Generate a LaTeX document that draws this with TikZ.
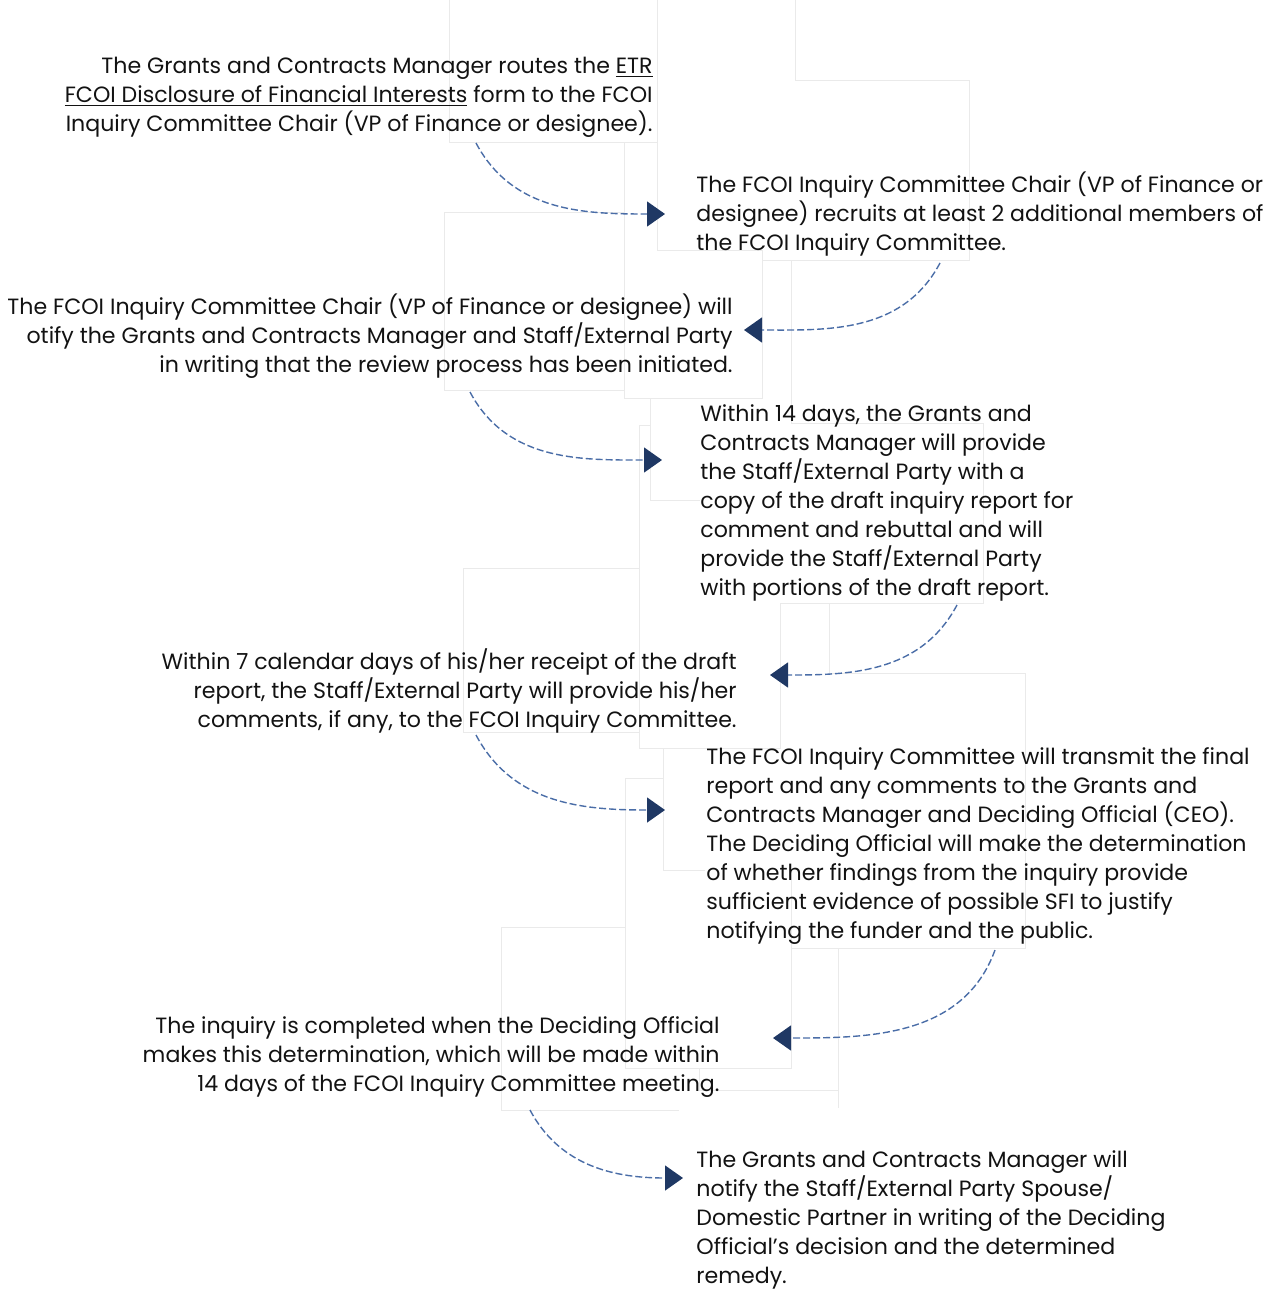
\documentclass[tikz,border=0pt]{standalone}
\usepackage{fontspec}
\setmainfont{Poppins}
\usepackage{xcolor}
\usetikzlibrary{arrows.meta, positioning, calc}
\definecolor{flowblue}{RGB}{74,109,167}
\definecolor{headblue}{RGB}{31,56,100}
\definecolor{boxgray}{RGB}{234,234,234}
\definecolor{textdark}{RGB}{18,18,18}
\newcommand{\steptext}{\fontsize{11.05}{14.5}\selectfont}

\begin{document}
\begin{tikzpicture}[x=0.5pt, y=0.5pt,
    leftstep/.style={anchor=north east, align=right, inner sep=0pt, font=\steptext, text=textdark},
    rightstep/.style={anchor=north west, align=left, inner sep=0pt, font=\steptext, text=textdark},
    flow/.style={flowblue, line width=0.7pt, dash pattern=on 3.5pt off 1.5pt,
        -{Triangle[length=9pt, width=12.5pt, color=headblue]}},
    ghost/.style={boxgray, line width=0.5pt}]
    \useasboundingbox (0,0) rectangle (1271,-1290);

    % faint frames left behind the steps
    \draw[ghost] (449,0) -- (449,-142) -- (657,-142);
    \draw[ghost] (657,0) -- (657,-250) -- (762,-250);
    \draw[ghost] (795,0) -- (795,-80) -- (969,-80) -- (969,-260) -- (762,-260);
    \draw[ghost] (624,-142) -- (624,-398) -- (762,-398) -- (762,-250);
    \draw[ghost] (624,-212) -- (444,-212) -- (444,-390) -- (624,-390);
    \draw[ghost] (791,-260) -- (791,-423) -- (983,-423) -- (983,-603) -- (780,-603);
    \draw[ghost] (650,-398) -- (650,-500) -- (700,-500);
    \draw[ghost] (650,-425) -- (639,-425) -- (639,-748) -- (780,-748) -- (780,-603);
    \draw[ghost] (639,-568) -- (463,-568) -- (463,-732) -- (639,-732);
    \draw[ghost] (829,-603) -- (829,-673) -- (1025,-673) -- (1025,-948) -- (791,-948);
    \draw[ghost] (663,-748) -- (663,-870) -- (705,-870);
    \draw[ghost] (663,-778) -- (625,-778) -- (625,-1068) -- (791,-1068) -- (791,-870);
    \draw[ghost] (625,-927) -- (501,-927) -- (501,-1110) -- (679,-1110);
    \draw[ghost] (699,-1068) -- (699,-1090) -- (838,-1090);
    \draw[ghost] (838,-948) -- (838,-1108);

    % steps
    \node[leftstep] (b1) at (653,-57) {The Grants and Contracts Manager routes the \underline{ETR}\\
        \underline{FCOI Disclosure of Financial Interests} form to the FCOI\\
        Inquiry Committee Chair (VP of Finance or designee).};
    \node[rightstep] (b2) at (696,-171) {The FCOI Inquiry Committee Chair (VP of Finance or\\
        designee) recruits at least 2 additional members of\\
        the FCOI Inquiry Committee.};
    \node[leftstep] (b3) at (733,-293) {The FCOI Inquiry Committee Chair (VP of Finance or designee) will\\
        otify the Grants and Contracts Manager and Staff/External Party\\
        in writing that the review process has been initiated.};
    \node[rightstep] (b4) at (700,-404) {Within 14 days, the Grants and\\
        Contracts Manager will provide\\
        the Staff/External Party with a\\
        copy of the draft inquiry report for\\
        comment and rebuttal and will\\
        provide the Staff/External Party\\
        with portions of the draft report.};
    \node[leftstep] (b5) at (737,-648) {Within 7 calendar days of his/her receipt of the draft\\
        report, the Staff/External Party will provide his/her\\
        comments, if any, to the FCOI Inquiry Committee.};
    \node[rightstep] (b6) at (706,-747) {The FCOI Inquiry Committee will transmit the final\\
        report and any comments to the Grants and\\
        Contracts Manager and Deciding Official (CEO).\\
        The Deciding Official will make the determination\\
        of whether findings from the inquiry provide\\
        sufficient evidence of possible SFI to justify\\
        notifying the funder and the public.};
    \node[leftstep] (b7) at (720,-1016) {The inquiry is completed when the Deciding Official\\
        makes this determination, which will be made within\\
        14 days of the FCOI Inquiry Committee meeting.};
    \node[rightstep] (b8) at (696,-1150) {The Grants and Contracts Manager will\\
        notify the Staff/External Party Spouse/\\
        Domestic Partner in writing of the Deciding\\
        Official's decision and the determined\\
        remedy.};

    % arrows between the steps
    \draw[flow] ([shift={(-177,-86)}]b1.north east) to[out=-62, in=180] ([shift={(-31,-43)}]b2.north west);
    \draw[flow] ([shift={(244,-92)}]b2.north west) to[out=-118, in=0] ([shift={(11,-37)}]b3.north east);
    \draw[flow] ([shift={(-263,-99)}]b3.north east) to[out=-62, in=180] ([shift={(-38,-56)}]b4.north west);
    \draw[flow] ([shift={(257,-201)}]b4.north west) to[out=-118, in=0] ([shift={(33,-27)}]b5.north east);
    \draw[flow] ([shift={(-261,-87)}]b5.north east) to[out=-62, in=180] ([shift={(-41,-63)}]b6.north west);
    \draw[flow] ([shift={(289,-203)}]b6.north west) to[out=-110, in=0] ([shift={(53,-22)}]b7.north east);
    \draw[flow] ([shift={(-190,-94)}]b7.north east) to[out=-62, in=180] ([shift={(-13,-28)}]b8.north west);
\end{tikzpicture}
\end{document}
